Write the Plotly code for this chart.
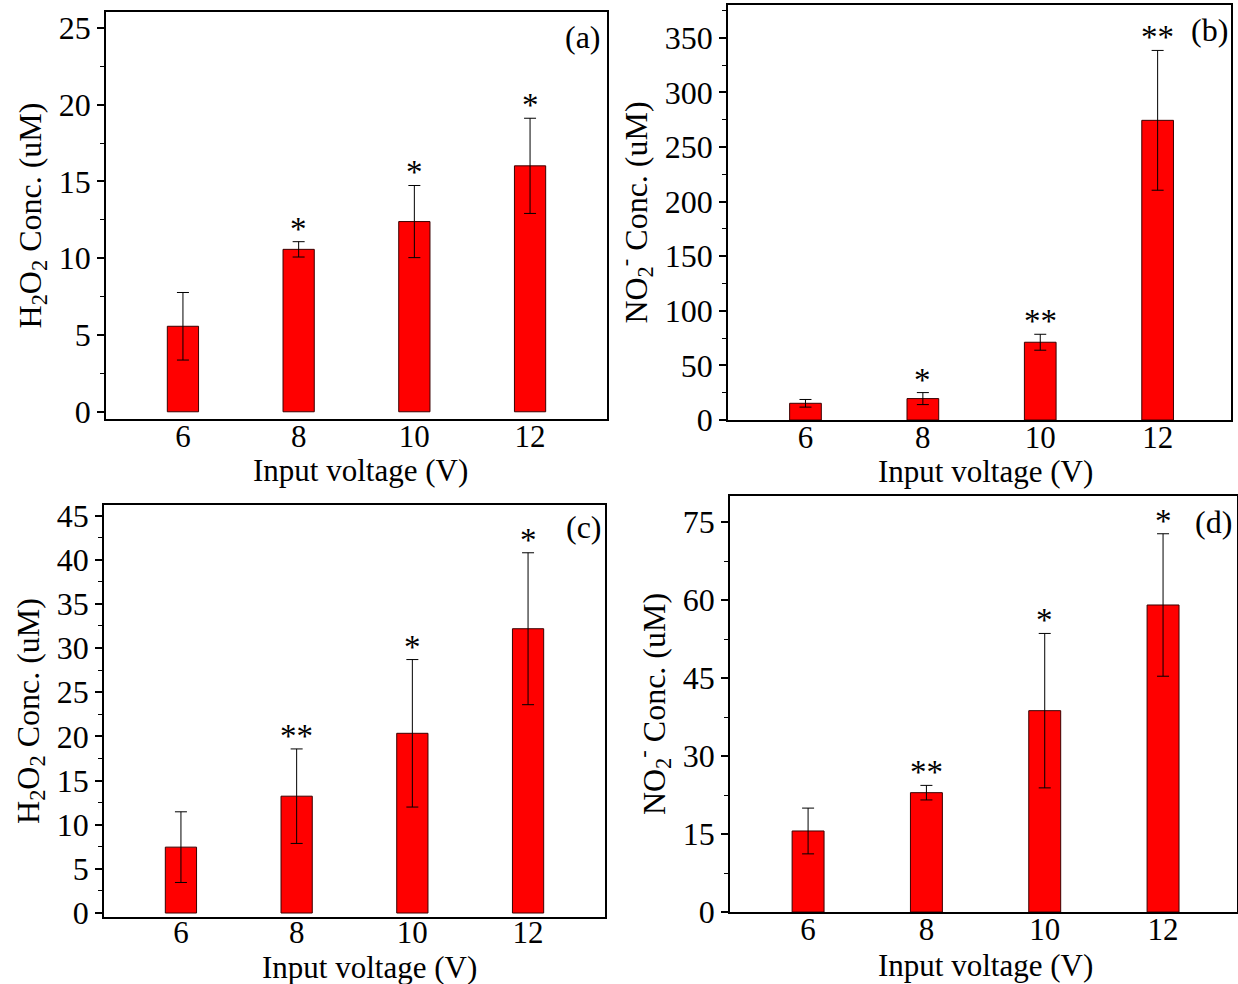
import plotly.graph_objects as go

voltages = [6, 8, 10, 12]

h2o2_a = [5.57, 10.58, 12.39, 16.02]
h2o2_a_err = [2.2, 0.5, 2.35, 3.1]
h2o2_a_sig = ["", "*", "*", "*"]

no2_b = [15.3, 19.6, 71.2, 274.4]
no2_b_err = [3.5, 5.5, 7.3, 64.0]
no2_b_sig = ["", "*", "**", "**"]

h2o2_c = [7.46, 13.23, 20.35, 32.19]
h2o2_c_err = [4.0, 5.35, 8.35, 8.6]
h2o2_c_sig = ["", "**", "*", "*"]

no2_d = [15.58, 22.95, 38.72, 59.04]
no2_d_err = [4.4, 1.4, 14.85, 13.7]
no2_d_sig = ["", "**", "*", "*"]

panel_labels = ["(a)", "(b)", "(c)", "(d)"]
x_title = "Input voltage (V)"
y_titles = ["H<sub>2</sub>O<sub>2</sub> Conc. (uM)",
            "NO<sub>2</sub><sup>-</sup> Conc. (uM)",
            "H<sub>2</sub>O<sub>2</sub> Conc. (uM)",
            "NO<sub>2</sub><sup>-</sup> Conc. (uM)"]

FONT = "Liberation Serif, Times New Roman, serif"
W, H = 1238, 984

# pixel frames: (left, right, top, bottom)
frames = [(106, 607, 12, 419), (728, 1231, 5, 420),
          (104, 605, 505, 917), (730, 1237, 496, 912)]
yranges = [[-0.47, 26.04], [0, 380], [-0.45, 46.2], [0, 80]]
xranges = [[4.67, 13.33], [4.68, 13.25], [4.67, 13.33], [4.68, 13.25]]
dticks = [5, 50, 5, 15]
label_pos = [(583, 37), (1209, 30), (584, 527), (1213, 522)]
xtitle_pos = [(360, 470), (986, 471), (369, 967), (985, 965)]
xlabel_standoff = [-11, -11, -13, -11]

series = [(h2o2_a, h2o2_a_err, h2o2_a_sig), (no2_b, no2_b_err, no2_b_sig),
          (h2o2_c, h2o2_c_err, h2o2_c_sig), (no2_d, no2_d_err, no2_d_sig)]

fig = go.Figure()
annotations = []
layout = {}
for i, ((vals, errs, sigs), (l, r, t, b)) in enumerate(zip(series, frames)):
    n = "" if i == 0 else str(i + 1)
    fig.add_trace(go.Bar(
        x=voltages, y=vals, width=0.54,
        xaxis="x" + n, yaxis="y" + n, textposition="none",
        marker=dict(color="#ff0000", line=dict(color="#3a0000", width=1)),
        error_y=dict(type="data", array=errs, visible=True,
                     color="black", thickness=1, width=6),
        showlegend=False))
    layout["xaxis" + n] = dict(
        domain=[l / W, r / W], anchor="y" + n, range=xranges[i],
        automargin=False,
        tickvals=voltages, ticktext=[str(v) for v in voltages],
        ticks="", ticklabelstandoff=xlabel_standoff[i],
        showline=True, mirror=True, linecolor="black", linewidth=1.5,
        showgrid=False, zeroline=False,
        tickfont=dict(family=FONT, size=31, color="black"))
    layout["yaxis" + n] = dict(
        domain=[1 - b / H, 1 - t / H], anchor="x" + n, range=yranges[i],
        automargin=False,
        dtick=dticks[i], tick0=0, ticks="outside", ticklen=7, tickwidth=1.5,
        tickcolor="black",
        minor=dict(ticks="outside", ticklen=4, dtick=dticks[i] / 2,
                   tick0=0, tickcolor="black", tickwidth=1, showgrid=False),
        showline=True, mirror=True, linecolor="black", linewidth=1.5,
        showgrid=False, zeroline=False,
        tickfont=dict(family=FONT, size=32, color="black"),
        title=dict(text=y_titles[i], standoff=8,
                   font=dict(family=FONT, size=32, color="black")))
    for v, e, s in zip(voltages, [a + c for a, c in zip(vals, errs)], sigs):
        if s:
            annotations.append(dict(
                x=v, y=e, xref="x" + n, yref="y" + n, text=s,
                showarrow=False, yanchor="bottom", yshift=-7,
                font=dict(family=FONT, size=33, color="black")))
    lx, ly = label_pos[i]
    annotations.append(dict(
        x=lx / W, y=1 - ly / H, xref="paper", yref="paper",
        text=panel_labels[i], showarrow=False,
        xanchor="center", yanchor="middle",
        font=dict(family=FONT, size=32, color="black")))
    tx, ty = xtitle_pos[i]
    annotations.append(dict(
        x=tx / W, y=1 - ty / H, xref="paper", yref="paper",
        text=x_title, showarrow=False, borderpad=0,
        xanchor="center", yanchor="middle",
        font=dict(family=FONT, size=31, color="black")))

fig.update_layout(
    width=W, height=H, margin=dict(l=0, r=0, t=0, b=0),
    paper_bgcolor="white", plot_bgcolor="white",
    annotations=annotations, **layout)

fig.write_html("out.html")
